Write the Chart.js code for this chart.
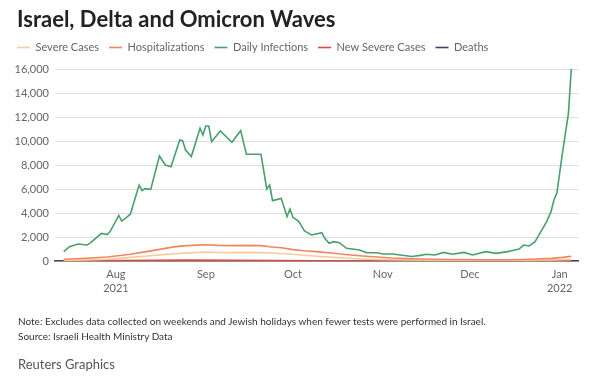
<!DOCTYPE html>
<html>
<head>
<meta charset="utf-8">
<script src="https://cdn.jsdelivr.net/npm/chart.js@4/dist/chart.umd.min.js"></script>
<style>
  html,body{margin:0;padding:0;background:#fff;}
  #wrap{position:relative;width:600px;height:381px;overflow:hidden;font-family:Lato,"Open Sans",sans-serif;}
  #c{position:absolute;left:0;top:0;}
  .title{position:absolute;left:17px;top:5px;font-size:22px;font-weight:700;color:#222;white-space:nowrap;}
  .note{position:absolute;left:18px;font-size:10px;color:#333;white-space:nowrap;}
  .credit{position:absolute;left:18px;top:356px;font-size:13px;color:#555;white-space:nowrap;}
</style>
</head>
<body>
<div id="wrap">
  <canvas id="c" width="600" height="381"></canvas>
  <div class="title">Israel, Delta and Omicron Waves</div>
  <div class="note" style="top:315px">Note: Excludes data collected on weekends and Jewish holidays when fewer tests were performed in Israel.</div>
  <div class="note" style="top:330px">Source: Israeli Health Ministry Data</div>
  <div class="credit">Reuters Graphics</div>
</div>
<script>
// x values are days since 1 Aug 2021
const seriesNames = ["Severe Cases", "Hospitalizations", "Daily Infections", "New Severe Cases", "Deaths"];
const seriesColors = ["#f8cb9c", "#ef8660", "#4a9f6c", "#e0483f", "#3f4277"];

const infDays = [-18,-16,-13,-10,-9,-5,-3,-2,1,2,4,5,8,9,10,12,15,17,19,22,23,24,26,29,30,31,32,33,36,40,43,45,50,52,53,54,57,59,60,61,63,65,67.5,71,72,73.5,75,77,79.5,84,86.5,90,92,95.5,98,102,105,107,110,113,116,120,123,127.5,131,135,137.5,139,140.5,142.5,144.5,146.5,148.5,150,151,152,154,156,157];
const infValues = [780,1190,1420,1330,1470,2300,2200,2450,3800,3330,3700,3920,6330,5860,6030,5970,8750,8000,7860,10080,10030,9250,8700,11060,10500,11250,11250,9940,10830,9890,10860,8890,8890,6000,6330,5030,5220,3700,4330,3640,3300,2500,2170,2360,1890,1470,1610,1530,1060,920,690,690,580,580,500,380,470,560,500,720,560,720,500,780,640,780,920,1000,1330,1250,1610,2440,3280,4110,5080,5640,9100,12300,16060];

const hospDays = [-18,-10,-3,0,5,10,15,20,23,28,31,35,40,45,50,53,57,61,65,70,75,80,85,90,95,100,105,110,115,120,125,130,135,140,145,150,154,157];
const hospValues = [150,230,330,420,560,760,970,1180,1260,1320,1360,1300,1280,1300,1280,1190,1100,950,850,760,640,520,420,330,250,200,170,150,130,120,110,100,110,130,170,220,300,400];

const sevDays = [-18,-10,-3,0,5,10,15,20,25,31,35,40,45,50,55,61,65,70,75,80,85,90,95,100,110,120,130,140,150,157];
const sevValues = [50,90,150,200,300,400,510,600,680,740,710,700,720,700,650,560,480,380,300,230,170,130,100,80,70,60,60,70,90,120];

const newSevDays = [-18,0,15,25,40,55,70,90,120,150,157];
const newSevValues = [10,40,60,70,60,40,25,10,8,12,20];

const deathDays = [-18,10,25,40,60,80,120,157];
const deathValues = [3,15,25,25,15,8,5,5];

const monthTicks = [0, 31, 61, 92, 122, 153];
const monthLabels = [["Aug","2021"], "Sep", "Oct", "Nov", "Dec", ["Jan","2022"]];
const yTicks = [0,2000,4000,6000,8000,10000,12000,14000,16000];

function pts(d, v){ return d.map((x,i)=>({x:x, y:v[i]})); }
const allData = [pts(sevDays,sevValues), pts(hospDays,hospValues), pts(infDays,infValues), pts(newSevDays,newSevValues), pts(deathDays,deathValues)];

const datasets = seriesNames.map((n,i)=>({
  label: n,
  data: allData[i],
  borderColor: seriesColors[i],
  backgroundColor: seriesColors[i],
  borderWidth: 1.6,
  pointRadius: 0,
  tension: 0,
  fill: false,
  order: i===2 ? 0 : (i===1 ? 1 : 2)
}));

const legendMargin = {
  id: 'legendMargin',
  beforeInit(chart){
    const fit = chart.legend.fit;
    chart.legend.fit = function(){ fit.call(this); this.height += 6; };
  }
};

new Chart(document.getElementById('c'), {
  type: 'line',
  data: { datasets },
  plugins: [legendMargin],
  options: {
    responsive: false,
    animation: false,
    devicePixelRatio: 1,
    layout: { padding: { top: 32, left: 7, right: 22, bottom: 86 } },
    plugins: {
      legend: {
        display: true,
        position: 'top',
        align: 'start',
        labels: {
          usePointStyle: true,
          pointStyle: 'line',
          pointStyleWidth: 13,
          padding: 10,
          color: '#666',
          font: { family: 'Lato', size: 11 },
          sort: (a,b) => a.datasetIndex - b.datasetIndex
        }
      },
      tooltip: { enabled: false }
    },
    scales: {
      x: {
        type: 'linear',
        min: -21,
        max: 159.3,
        afterBuildTicks: s => { s.ticks = monthTicks.map(v=>({value:v})); },
        afterFit: s => { s.height = 34; },
        grid: { display: false, drawTicks: false },
        border: { display: true, color: '#444', width: 1.5 },
        ticks: {
          padding: 6,
          color: '#666',
          autoSkip: false,
          maxRotation: 0,
          font: { family: 'Lato', size: 11, lineHeight: 1.3 },
          callback: (v) => { const i = monthTicks.indexOf(v); return i >= 0 ? monthLabels[i] : ''; }
        }
      },
      y: {
        min: 0,
        max: 16000,
        afterBuildTicks: s => { s.ticks = yTicks.map(v=>({value:v})); },
        afterFit: s => { s.width = 48; },
        grid: { color: '#dedede', lineWidth: 1, drawTicks: false },
        border: { display: false },
        ticks: {
          padding: 6,
          color: '#666',
          font: { family: 'Lato', size: 11 },
          callback: v => v.toLocaleString('en-US')
        }
      }
    }
  }
});
</script>
</body>
</html>
